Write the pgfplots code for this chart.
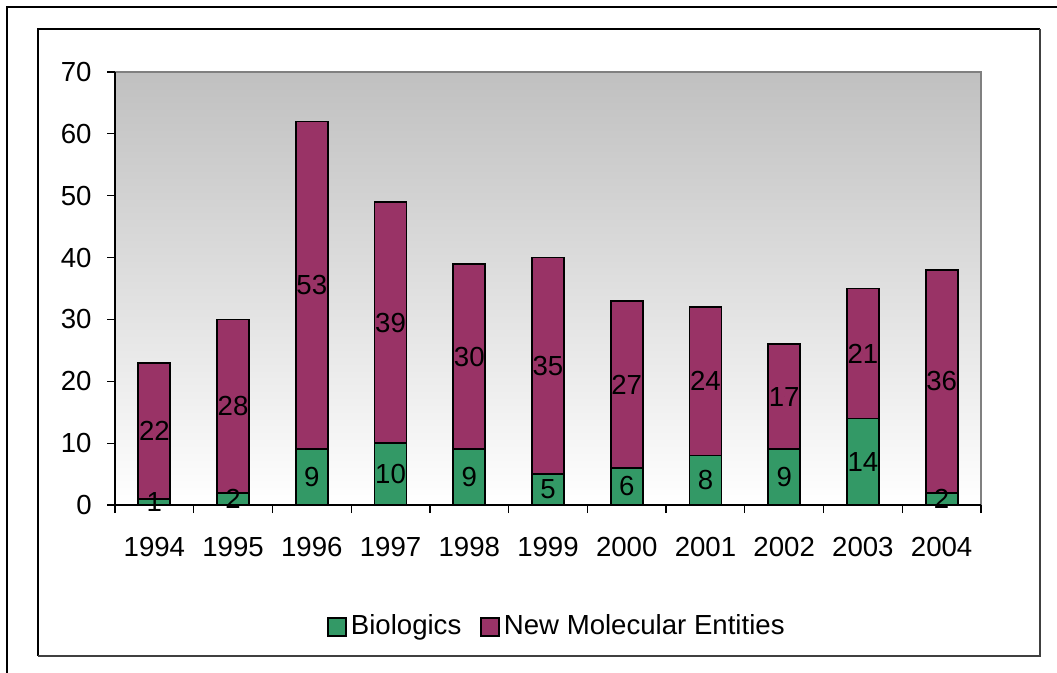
\documentclass[border=0pt]{standalone}
\usepackage{pgfplots}
\pgfplotsset{compat=1.18}
\usepackage{pgfplotstable}
\usepackage{fontspec}
\setmainfont{Liberation Sans}
\definecolor{bio}{RGB}{51,153,102}
\definecolor{nme}{RGB}{153,51,102}
\definecolor{bgtop}{RGB}{192,192,192}
\pgfplotstableread{
x year bio nme
0 1994 1 22
1 1995 2 28
2 1996 9 53
3 1997 10 39
4 1998 9 30
5 1999 5 35
6 2000 6 27
7 2001 8 24
8 2002 9 17
9 2003 14 21
10 2004 2 36
}\data
\begin{document}
\fontsize{13.8bp}{16bp}\selectfont
\begin{tikzpicture}
\useasboundingbox (0bp,0bp) rectangle (528.5bp,336.5bp);
\draw[line width=1bp, black] (3.5bp,-5bp) -- (3.5bp,333bp) -- (540bp,333bp);
\fill[white] (19bp,8.5bp) rectangle (520bp,322bp);
\draw[line width=0.6bp, black] (19bp,8.5bp) -- (19bp,322bp) -- (520bp,322bp);
\draw[line width=1.2bp, black!75] (19bp,8.5bp) -- (520bp,8.5bp) -- (520bp,322bp);
\begin{axis}[
  at={(57.5bp,84bp)}, anchor=south west,
  scale only axis, width=433bp, height=216.5bp,
  xmin=-0.5, xmax=10.5, ymin=0, ymax=70,
  axis lines*=left,
  axis line style={-, black, line width=0.6bp},
  axis background/.style={shade, top color=bgtop, bottom color=white, draw=gray, line width=1bp},
  /pgf/number format/assume math mode=true,
  xtick={-0.5,0.5,...,10.5},
  xticklabels={1994,1995,1996,1997,1998,1999,2000,2001,2002,2003,2004,{}},
  xticklabel style={xshift=19.68bp, yshift=-7.4bp},
  ytick={0,10,...,70},
  yticklabel style={xshift=-2.9bp},
  tick align=outside,
  major tick length=4bp,
  tick style={black, line width=0.6bp},
  legend style={at={(0.5115,-0.2818)}, anchor=center, draw=none, fill=none,
    /tikz/every even column/.append style={column sep=7.5bp}},
  legend columns=2,
  legend image code/.code={\draw[#1, draw=black, line width=0.8bp] (0bp,-4.5bp) rectangle (9bp,4.5bp);},
]
\addlegendimage{fill=bio}
\addlegendentry{Biologics}
\addlegendimage{fill=nme}
\addlegendentry{New Molecular Entities}
\addplot[ybar, bar width=16bp, bar shift=0pt, fill=nme, draw=black, line width=0.9bp, forget plot]
  table[x=x, y expr=\thisrow{bio}+\thisrow{nme}] {\data};
\addplot[ybar, bar width=16bp, bar shift=0pt, fill=bio, draw=black, line width=0.9bp, forget plot]
  table[x=x, y=bio] {\data};
\addplot[only marks, mark=*, mark size=0pt, mark options={draw=none, fill=none}, forget plot,
  nodes near coords, point meta=explicit symbolic, nodes near coords align={anchor=center}]
  table[x=x, y expr=\thisrow{bio}/2, meta=bio] {\data};
\addplot[only marks, mark=*, mark size=0pt, mark options={draw=none, fill=none}, forget plot,
  nodes near coords, point meta=explicit symbolic, nodes near coords align={anchor=center}]
  table[x=x, y expr=\thisrow{bio}+\thisrow{nme}/2, meta=nme] {\data};
\end{axis}
\end{tikzpicture}
\end{document}
